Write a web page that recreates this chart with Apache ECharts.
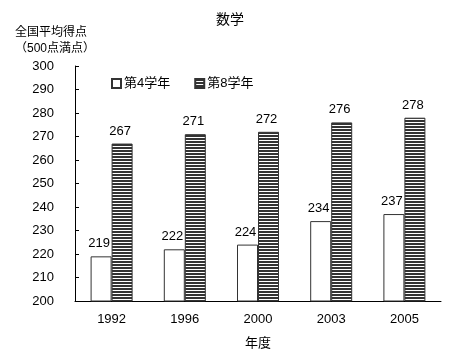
<!DOCTYPE html>
<html><head><meta charset="utf-8">
<script src="https://cdn.jsdelivr.net/npm/echarts@6/dist/echarts.min.js"></script>
<style>html,body{margin:0;padding:0;background:#fff}#c{width:460px;height:355px}</style>
</head><body><div id="c"></div>
<script>
const categories = ['1992','1996','2000','2003','2005'];
const grade4 = [219,222,224,234,237];
const grade8 = [267,271,272,276,278];
const seriesNames = ['第4学年','第8学年'];
const chartTitle = '数学';
const yName = '全国平均得点\n（500点満点）';
const xName = '年度';

const pc = document.createElement('canvas');
pc.width = 4; pc.height = 3;
const ctx = pc.getContext('2d');
ctx.fillStyle = '#ffffff'; ctx.fillRect(0,0,4,3);
ctx.fillStyle = '#333333'; ctx.fillRect(0,0,4,2);

const font = '"Liberation Sans", "Noto Sans CJK JP", sans-serif';
const chart = echarts.init(document.getElementById('c'), null, {renderer:'canvas'});
chart.setOption({
  animation: false,
  textStyle: {fontFamily: font},
  title: [
    {text: chartTitle, left: 'center', top: 8, textStyle: {fontSize: 14, fontWeight: 'normal', color: '#000', fontFamily: font}},
    {text: yName, left: 10, top: 20, textStyle: {fontSize: 12, fontWeight: 'normal', color: '#000', lineHeight: 16, fontFamily: font}}
  ],
  legend: {
    left: 106, top: 72, itemWidth: 9, itemHeight: 9, itemGap: 24,
    icon: 'rect',
    textStyle: {fontSize: 13, color: '#000', padding: [0,0,0,-2]},
    data: seriesNames
  },
  grid: {left: 75, right: 19, top: 66, bottom: 51},
  xAxis: {
    type: 'category', data: categories,
    name: xName, nameLocation: 'middle', nameGap: 36,
    nameTextStyle: {fontSize: 13, color: '#000'},
    axisLine: {lineStyle: {color: '#000', width: 1}},
    axisTick: {inside: true, length: 3, lineStyle: {color: '#000'}},
    axisLabel: {fontSize: 13, color: '#000', margin: 12}
  },
  yAxis: {
    type: 'value', min: 200, max: 300, interval: 10,
    axisLine: {show: true, lineStyle: {color: '#000', width: 1}},
    axisTick: {show: true, inside: true, length: 4, lineStyle: {color: '#000'}},
    axisLabel: {fontSize: 13, color: '#000', margin: 21},
    splitLine: {show: false}
  },
  series: [
    {name: seriesNames[0], type: 'bar', data: grade4, barWidth: 21, barGap: '0%',
     itemStyle: {color: '#fff', borderColor: '#333', borderWidth: 1},
     label: {show: true, position: 'top', fontSize: 13, color: '#000', distance: 6, offset: [-2, 0]}},
    {name: seriesNames[1], type: 'bar', data: grade8, barWidth: 21, barGap: '0%',
     itemStyle: {color: {image: pc, repeat: 'repeat'}, borderColor: '#333', borderWidth: 1},
     label: {show: true, position: 'top', fontSize: 13, color: '#000', distance: 6, offset: [-2, 0]}}
  ]
});
</script></body></html>
